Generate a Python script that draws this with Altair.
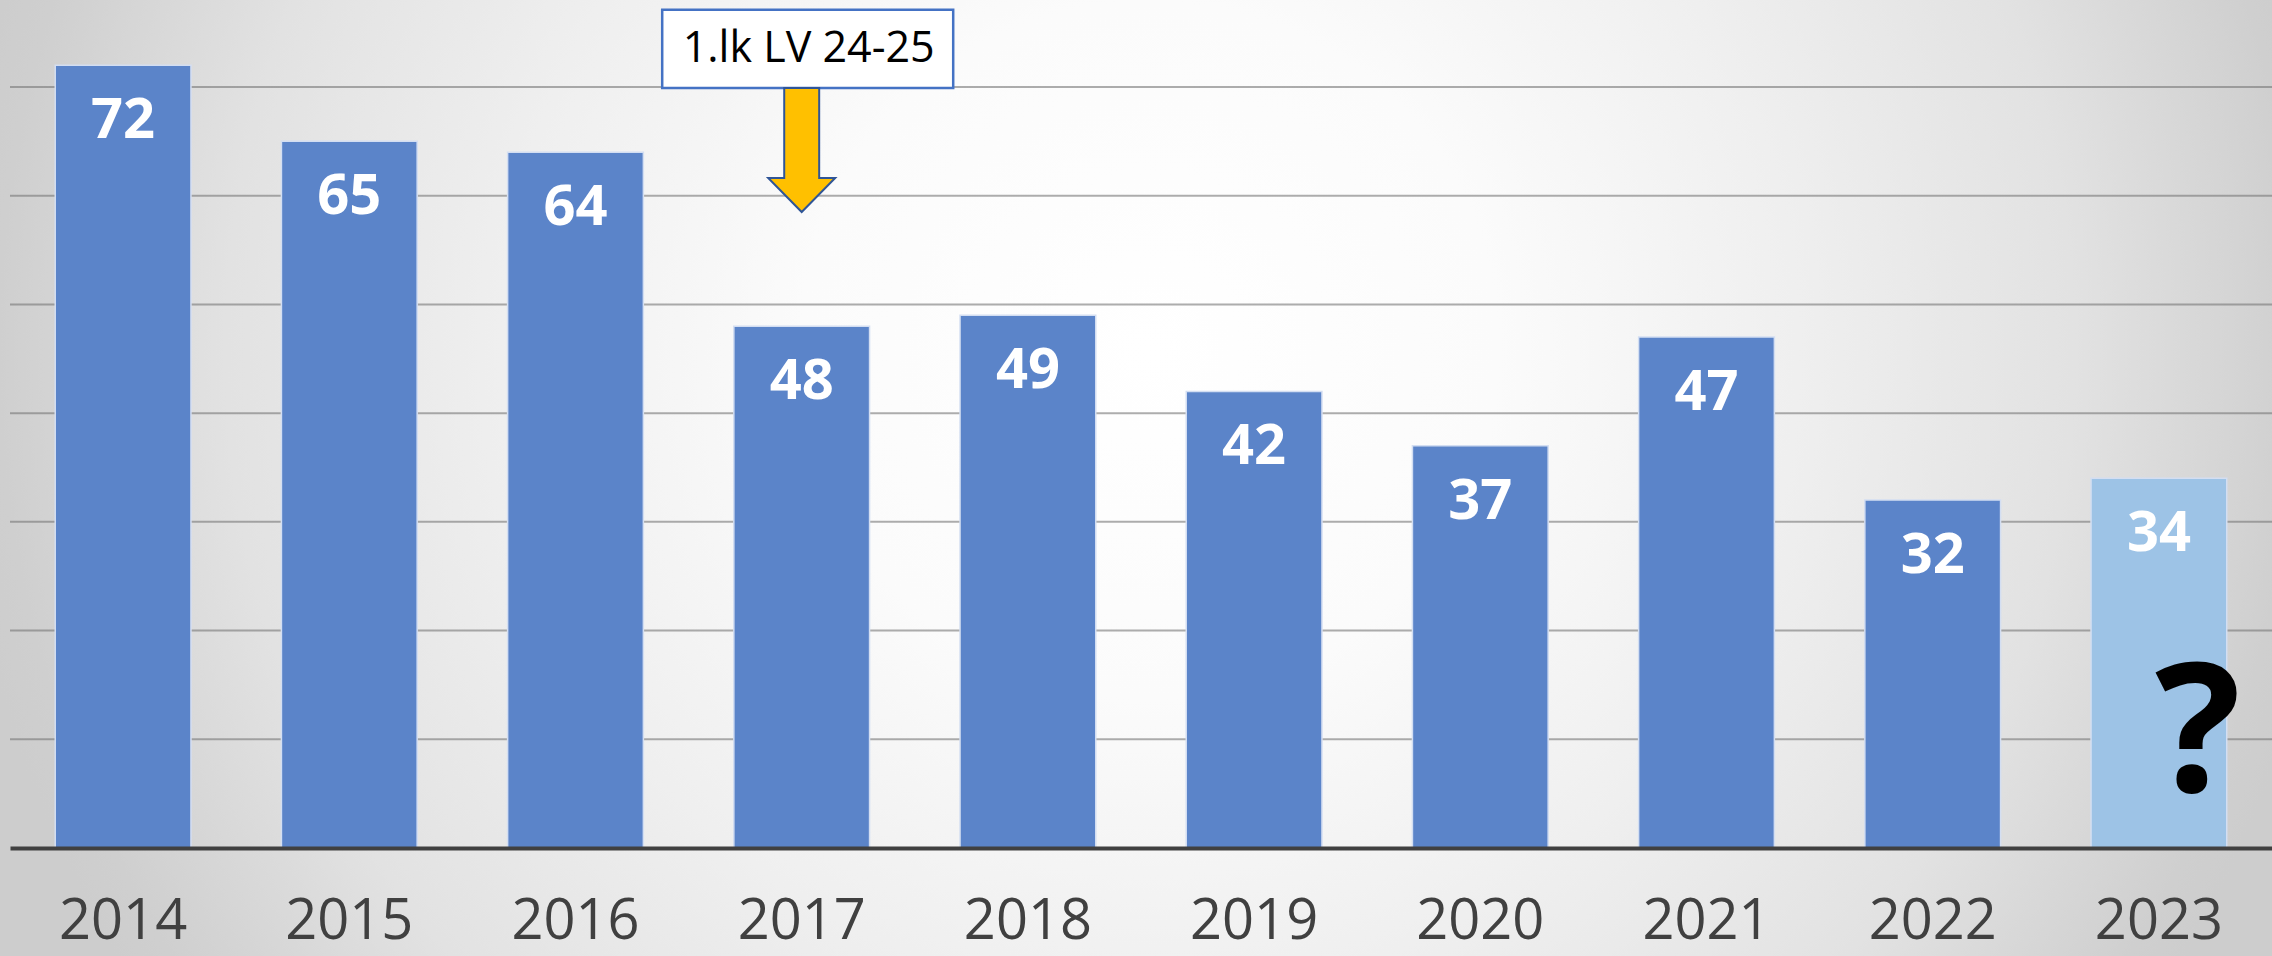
import altair as alt
import pandas as pd

# ---- data ----
years = ["2014", "2015", "2016", "2017", "2018", "2019", "2020", "2021", "2022", "2023"]
values = [72, 65, 64, 48, 49, 42, 37, 47, 32, 34]
kinds = ["actual"] * 9 + ["forecast"]
grid_values = [10, 20, 30, 40, 50, 60, 70]

ann_year = ["2017"]
ann_label = ["1.lk LV 24-25"]
ann_box_top = [77.1]
ann_box_bottom = [69.9]
ann_text_y = [73.5]
ann_arrow_y = [64.2]

q_year = ["2023"]
q_text = ["?"]
q_y = [5.15]

W, H = 2262, 848
YMAX = 78

df = pd.DataFrame({"year": years, "value": values, "kind": kinds})
gdf = pd.DataFrame({"g": grid_values})
adf = pd.DataFrame({"year": ann_year, "label": ann_label, "top": ann_box_top,
                    "bottom": ann_box_bottom, "ty": ann_text_y, "ay": ann_arrow_y})
qdf = pd.DataFrame({"year": q_year, "t": q_text, "y": q_y})
one = pd.DataFrame({"a": [0]})

xscale = alt.Scale(domain=years, paddingInner=0.4, paddingOuter=0.2)
yscale = alt.Scale(domain=[0, YMAX], nice=False, zero=True)

xenc = alt.X("year:N", scale=xscale, sort=years,
             axis=alt.Axis(title=None, labelFont="Open Sans", labelFontSize=56,
                           labelColor="#404040", labelAngle=0, ticks=False,
                           domainColor="#404040", domainWidth=4, labelPadding=90,
                           labelBaseline="alphabetic", grid=False, zindex=1))

gradient = {
    "gradient": "radial",
    "x1": 0.5, "y1": 0.5, "r1": 0,
    "x2": 0.5, "y2": 0.5, "r2": 0.48,
    "stops": [
        {"offset": 0.0, "color": "#ffffff"},
        {"offset": 0.29, "color": "#fbfbfb"},
        {"offset": 0.54, "color": "#efefef"},
        {"offset": 0.77, "color": "#e2e2e2"},
        {"offset": 0.96, "color": "#cfcfcf"},
        {"offset": 1.0, "color": "#cdcdcd"},
    ],
}

bg = alt.Chart(one).mark_rect(fill=gradient, strokeWidth=0).encode(
    x=alt.value(-110), x2=alt.value(2390), y=alt.value(-900), y2=alt.value(1600)
)

grid = alt.Chart(gdf).mark_rule(color="#777777", opacity=0.6, strokeWidth=2).encode(
    y=alt.Y("g:Q", scale=yscale, axis=None),
    x=alt.value(0), x2=alt.value(W)
)

bars = alt.Chart(df).mark_bar(stroke="#d3def2", strokeWidth=1.5).encode(
    x=xenc,
    y=alt.Y("value:Q", scale=yscale, axis=None),
    color=alt.Color("kind:N", scale=alt.Scale(domain=["actual", "forecast"],
                                              range=["#5B84C9", "#9DC3E6"]), legend=None),
)

labels = alt.Chart(df).mark_text(font="Open Sans", fontWeight="bold", fontSize=56,
                                 color="white", baseline="alphabetic", dy=73).encode(
    x=alt.X("year:N", scale=xscale, sort=years),
    y=alt.Y("value:Q", scale=yscale),
    text="value:Q",
)

box = alt.Chart(adf).mark_bar(width=291, xOffset=6, fill="white", stroke="#4472C4",
                              strokeWidth=2.5).encode(
    x=alt.X("year:N", scale=xscale, sort=years),
    y=alt.Y("top:Q", scale=yscale),
    y2="bottom:Q",
)

box_text = alt.Chart(adf).mark_text(font="Open Sans", fontSize=43, color="black",
                                    baseline="middle", dx=7).encode(
    x=alt.X("year:N", scale=xscale, sort=years),
    y=alt.Y("ty:Q", scale=yscale),
    text="label:N",
)

arrow_path = "M -0.282 -1 L 0.282 -1 L 0.282 0.452 L 0.54 0.452 L 0 1 L -0.54 0.452 L -0.282 0.452 Z"
arrow = alt.Chart(adf).mark_point(shape=arrow_path, size=124 * 124, filled=True,
                                  fill="#FFC000", stroke="#2F5597", strokeWidth=2,
                                  opacity=1, fillOpacity=1).encode(
    x=alt.X("year:N", scale=xscale, sort=years),
    y=alt.Y("ay:Q", scale=yscale),
)

qmark = alt.Chart(qdf).mark_text(font="Open Sans", fontWeight="bold", fontSize=180,
                                 color="black", baseline="alphabetic", dx=39).encode(
    x=alt.X("year:N", scale=xscale, sort=years),
    y=alt.Y("y:Q", scale=yscale),
    text="t:N",
)

chart = alt.layer(bg, grid, bars, labels, box, box_text, arrow, qmark).properties(
    width=W, height=H,
    autosize=alt.AutoSizeParams(type="none"),
    padding={"left": 10, "top": 0, "right": 0, "bottom": 108},
    background="#d0d0d0",
).configure_view(stroke=None)

chart.save("out.html", embed_options={"renderer": "svg", "actions": False})
